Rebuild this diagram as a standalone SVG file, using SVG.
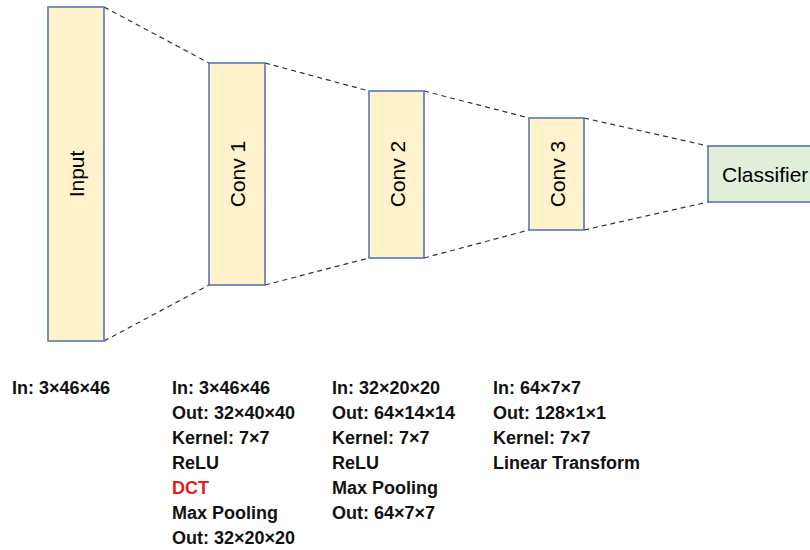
<svg xmlns="http://www.w3.org/2000/svg" width="810" height="550" viewBox="0 0 810 550">
<style>
.layer{fill:#FFF2CC;stroke:#4E6FAE;stroke-width:1.5}
.cls{fill:#E2EFD9;stroke:#4E6FAE;stroke-width:1.5}
.lbl{font-family:"Liberation Sans",Arial,sans-serif;font-size:21px;fill:#000;text-anchor:middle;dominant-baseline:central}
.conn{stroke:#333;stroke-width:1.2;stroke-dasharray:5,4;fill:none}
.info{font-family:"Liberation Sans",Arial,sans-serif;font-size:18px;font-weight:bold;fill:#111}
.red{fill:#E8191B}
</style>
<rect width="810" height="550" fill="#fff"/>
<g id="connectors">
<line class="conn" x1="104" y1="7" x2="209" y2="63"/>
<line class="conn" x1="104" y1="341" x2="209" y2="285"/>
<line class="conn" x1="265" y1="63" x2="369" y2="91"/>
<line class="conn" x1="265" y1="285" x2="369" y2="258"/>
<line class="conn" x1="424" y1="91" x2="529" y2="118"/>
<line class="conn" x1="424" y1="258" x2="529" y2="230"/>
<line class="conn" x1="584" y1="118" x2="708" y2="146"/>
<line class="conn" x1="584" y1="230" x2="708" y2="202"/>
</g>
<g id="input">
<rect class="layer" x="48" y="7" width="56" height="334"/>
<text class="lbl" transform="translate(76,174) rotate(-90)">Input</text>
</g>
<g id="conv1">
<rect class="layer" x="209" y="63" width="56" height="222"/>
<text class="lbl" transform="translate(237,174) rotate(-90)">Conv 1</text>
</g>
<g id="conv2">
<rect class="layer" x="369" y="91" width="55" height="167"/>
<text class="lbl" transform="translate(397,174) rotate(-90)">Conv 2</text>
</g>
<g id="conv3">
<rect class="layer" x="529" y="118" width="55" height="112"/>
<text class="lbl" transform="translate(557,174) rotate(-90)">Conv 3</text>
</g>
<g id="classifier">
<rect class="cls" x="708" y="146" width="110" height="56"/>
<text class="lbl" x="722" y="174" style="text-anchor:start">Classifier</text>
</g>
<g id="info-input">
<text class="info" x="12" y="394">In: 3×46×46</text>
</g>
<g id="info-conv1">
<text class="info" x="172" y="394">In: 3×46×46</text>
<text class="info" x="172" y="419">Out: 32×40×40</text>
<text class="info" x="172" y="444">Kernel: 7×7</text>
<text class="info" x="172" y="469">ReLU</text>
<text class="info red" x="172" y="494">DCT</text>
<text class="info" x="172" y="519">Max Pooling</text>
<text class="info" x="172" y="544">Out: 32×20×20</text>
</g>
<g id="info-conv2">
<text class="info" x="332" y="394">In: 32×20×20</text>
<text class="info" x="332" y="419">Out: 64×14×14</text>
<text class="info" x="332" y="444">Kernel: 7×7</text>
<text class="info" x="332" y="469">ReLU</text>
<text class="info" x="332" y="494">Max Pooling</text>
<text class="info" x="332" y="519">Out: 64×7×7</text>
</g>
<g id="info-conv3">
<text class="info" x="493" y="394">In: 64×7×7</text>
<text class="info" x="493" y="419">Out: 128×1×1</text>
<text class="info" x="493" y="444">Kernel: 7×7</text>
<text class="info" x="493" y="469">Linear Transform</text>
</g>
</svg>
